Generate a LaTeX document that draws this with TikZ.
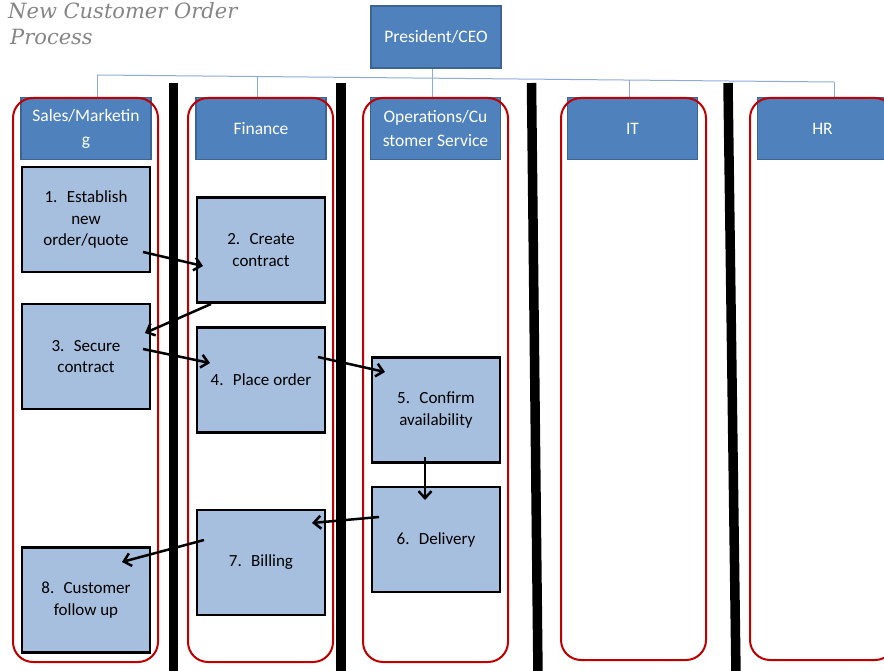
\documentclass[tikz,border=0pt]{standalone}
\usepackage{fontspec}
\setmainfont{Carlito}
\newfontfamily\titlefont{DejaVu Serif}
\usetikzlibrary{arrows.meta}
\definecolor{hdrfill}{HTML}{4F81BD}
\definecolor{hdrline}{HTML}{3C6496}
\definecolor{boxfill}{HTML}{A7BFDE}
\definecolor{lanered}{HTML}{C00000}
\definecolor{orgline}{HTML}{8EAADB}
\definecolor{titlegray}{HTML}{858585}
\begin{document}
\begin{tikzpicture}[x=1pt,y=-1pt,
 hdr/.style={draw=hdrline, line width=1.2pt, fill=hdrfill, text=white, minimum width=130pt, minimum height=62pt, inner sep=0pt, align=center, font=\fontsize{17.5}{24}\selectfont},
 proc/.style={draw=black, line width=2.5pt, fill=boxfill, minimum width=128pt, minimum height=105pt, inner sep=0pt, align=center, font=\fontsize{17}{21.5}\selectfont},
 lane/.style={draw=lanered, line width=2pt, rounded corners=20pt, minimum width=145pt, inner sep=0pt},
 bar/.style={line width=9.5pt, black},
 org/.style={draw=orgline, line width=1pt},
 flow/.style={line width=2.5pt, -{Straight Barb[length=7pt,width=13pt,line width=2.5pt]}},
 ttl/.style={anchor=base west, inner sep=0pt, text=titlegray, font=\titlefont\itshape\fontsize{21}{26}\selectfont}
]
\useasboundingbox (0,0) rectangle (884,671);
\clip (0,0) rectangle (884,671);

% title
\node[ttl] (title1) at (8,19) {New Customer Order};
\node[ttl] (title2) at (10,45) {Process};

% org chart
\node[hdr] (ceo) at (436,37) {President/CEO};
\node[hdr] (hsales) at (86,128.5) {Sales/Marketin\\g};
\node[hdr] (hfin) at (261,128.5) {Finance};
\node[hdr] (hops) at (435.5,128.5) {Operations/Cu\\stomer Service};
\node[hdr] (hit) at (632.5,128.5) {IT};
\node[hdr] (hhr) at (822.5,128.5) {HR};

\coordinate (busL) at (97,75);
\coordinate (busR) at (834,82);
\coordinate (busC) at (432,78.2);
\coordinate (busF) at (257,76.5);
\coordinate (busI) at (629,80);
\draw[org] (busL) -- (busR);
\draw[org] (busC |- ceo.south) -- (busC |- hops.north);
\draw[org] (busL) -- (busL |- hsales.north);
\draw[org] (busF) -- (busF |- hfin.north);
\draw[org] (busI) -- (busI |- hit.north);
\draw[org] (busR) -- (busR |- hhr.north);

% lanes
\node[lane, minimum height=564pt] (lsales) at (85.5,380) {};
\node[lane, minimum height=564pt] (lfin) at (260.5,380) {};
\node[lane, minimum height=564pt] (lops) at (435.5,380) {};
\node[lane, minimum height=562pt] (lit) at (633.5,379) {};
\node[lane, minimum height=562pt] (lhr) at (822.5,379) {};

% separators
\draw[bar] (173.5,83) -- (173.5,675);
\draw[bar] (341,83) -- (341,675);
\draw[bar] (531.5,83) -- (538,675);
\draw[bar] (728,83) -- (736,675);

% process boxes
\node[proc] (p1) at (86,219.5) {1.\hspace{0.55em}Establish\\new\\order/quote};
\node[proc] (p2) at (261,250) {2.\hspace{0.55em}Create\\contract};
\node[proc] (p3) at (86,356.5) {3.\hspace{0.55em}Secure\\contract};
\node[proc] (p4) at (261,380) {4.\hspace{0.55em}Place order};
\node[proc] (p5) at (436,410) {5.\hspace{0.55em}Confirm\\availability};
\node[proc] (p6) at (436,539.5) {6.\hspace{0.55em}Delivery};
\node[proc] (p7) at (261,562.5) {7.\hspace{0.55em}Billing};
\node[proc] (p8) at (86,600) {8.\hspace{0.55em}Customer\\follow up};

% flow arrows
\coordinate (a1s) at (143,252); \coordinate (a1e) at (203,266);
\coordinate (a2s) at (211,304); \coordinate (a2e) at (145,333);
\coordinate (a3s) at (143,349); \coordinate (a3e) at (210,363);
\coordinate (a4s) at (318,357); \coordinate (a4e) at (385,372);
\coordinate (a5s) at (425,457); \coordinate (a5e) at (425,500);
\coordinate (a6s) at (379,517); \coordinate (a6e) at (312,523);
\coordinate (a7s) at (204,540); \coordinate (a7e) at (122,562);
\draw[flow] (a1s) -- (a1e);
\draw[flow] (a2s) -- (a2e);
\draw[flow] (a3s) -- (a3e);
\draw[flow] (a4s) -- (a4e);
\draw[flow] (a5s) -- (a5e);
\draw[flow] (a6s) -- (a6e);
\draw[flow] (a7s) -- (a7e);
\end{tikzpicture}
\end{document}
